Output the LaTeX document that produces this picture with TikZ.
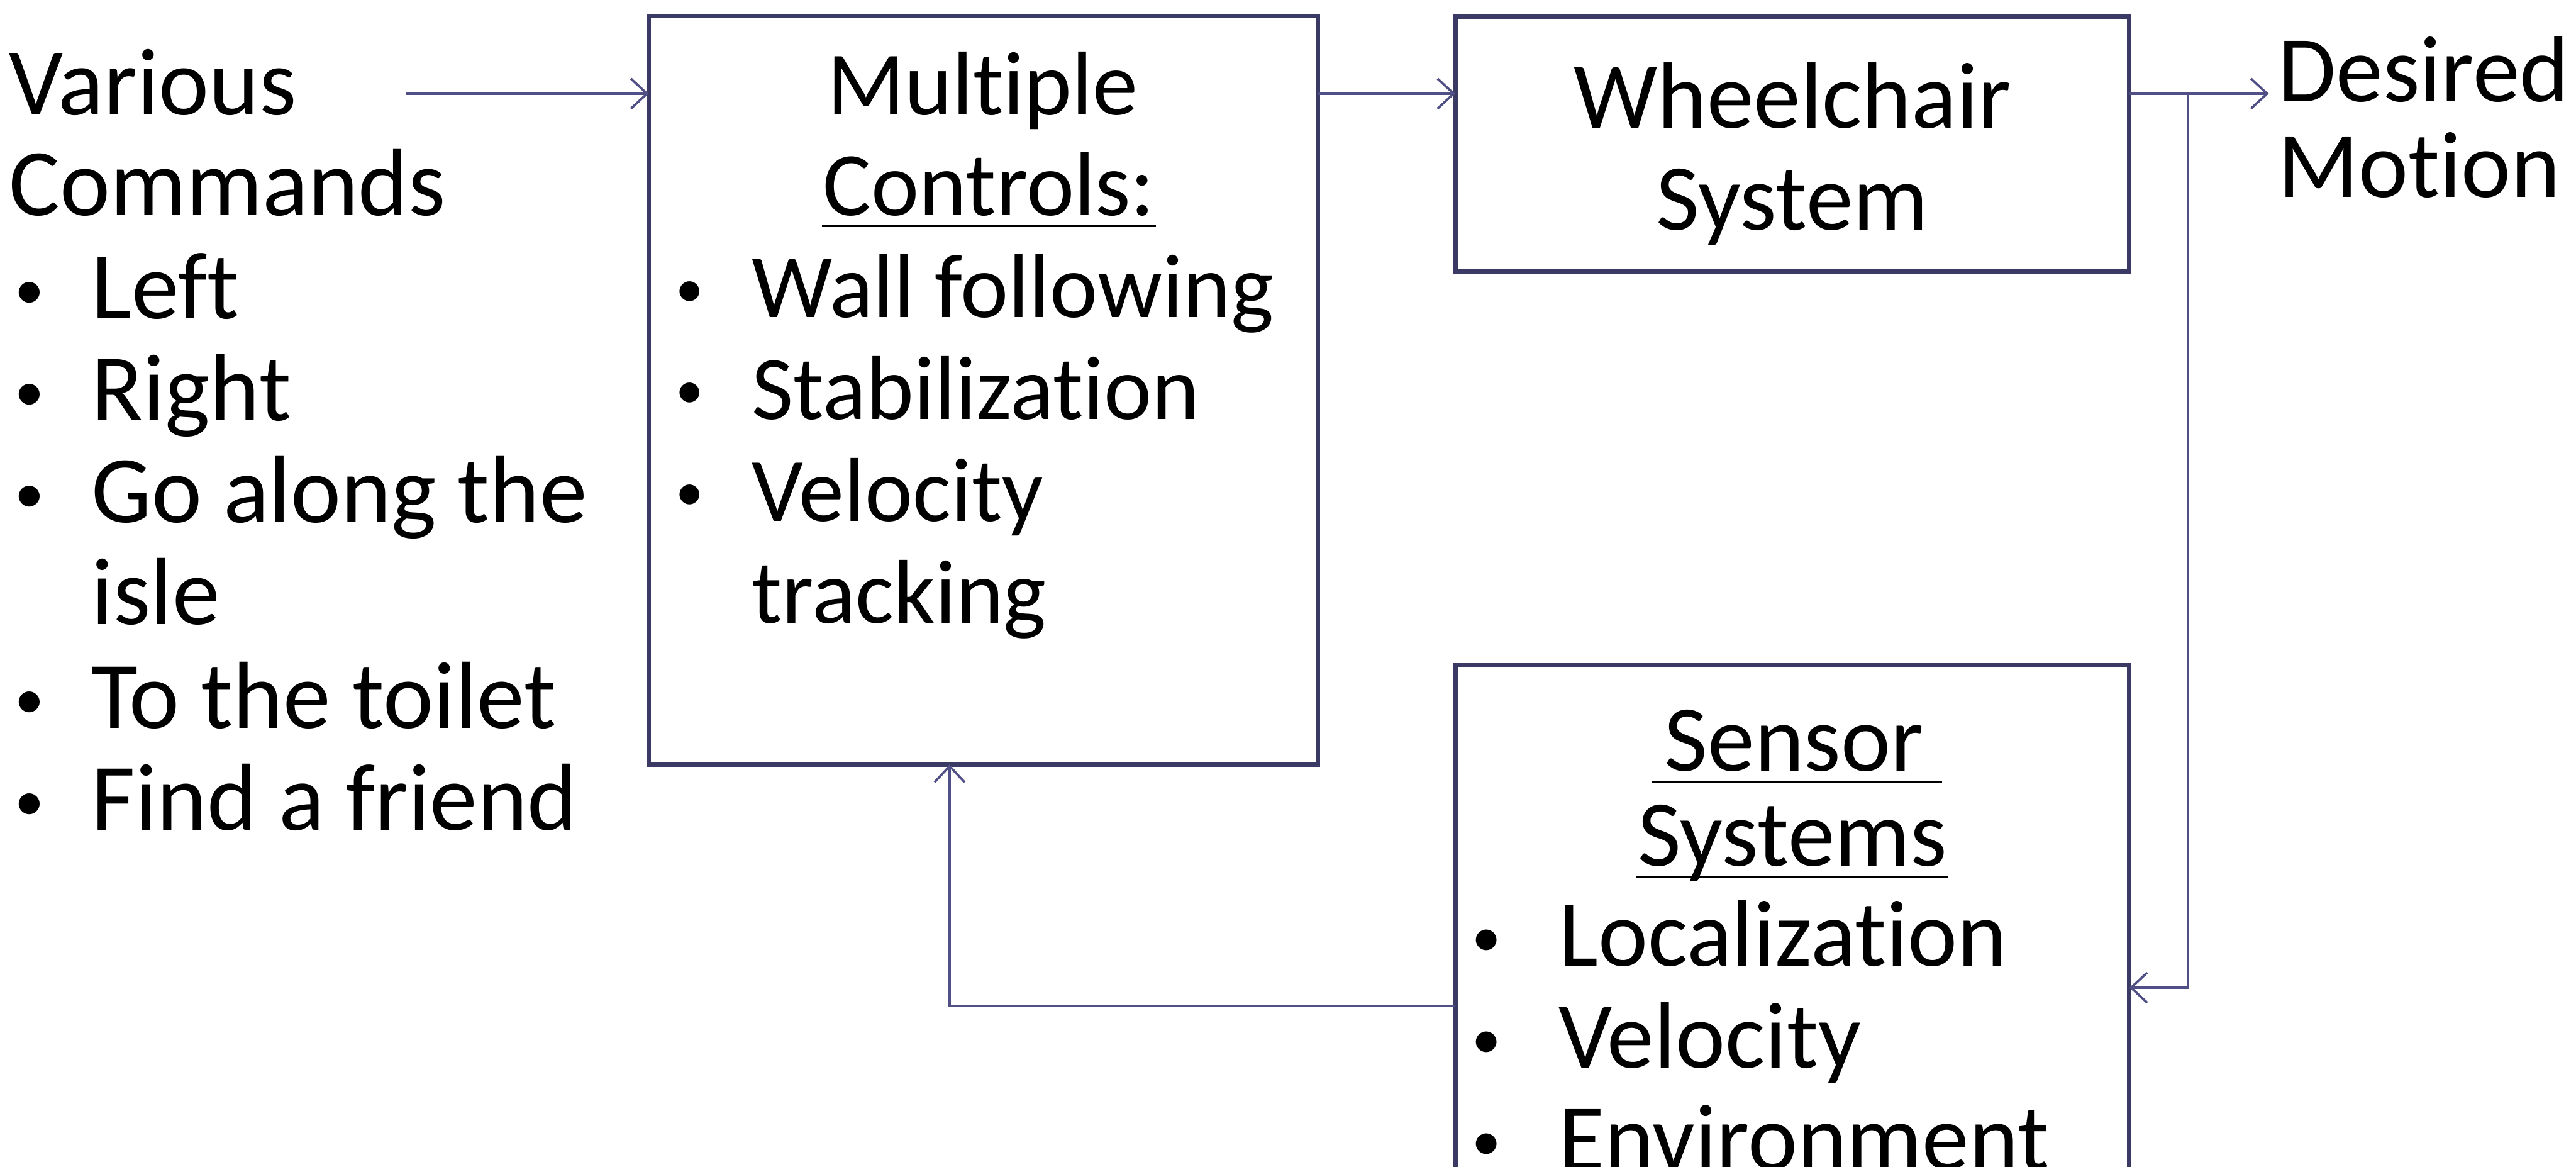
\documentclass[tikz,border=0pt]{standalone}
\usepackage{fontspec}
\setmainfont[RawFeature=-liga]{Carlito}
\usetikzlibrary{arrows.meta}
\definecolor{boxc}{RGB}{58,58,100}
\definecolor{linec}{RGB}{80,80,135}
\newcommand{\smallbul}{\scalebox{0.62}{•}}
\begin{document}
\begin{tikzpicture}[x=0.01cm,y=-0.01cm,
  box/.style={draw=boxc,line width=0.8pt,inner sep=0pt,outer sep=0pt,fill=none},
  arr/.style={draw=linec,line width=0.4pt,-{Straight Barb[length=2.8pt,width=5.2pt]}},
  uline/.style={draw=black,line width=0.4pt},
  fl/.style={font=\fontsize{16.5}{19}\selectfont},
  fa/.style={font=\fontsize{15.7}{19}\selectfont},
  fb/.style={font=\fontsize{16.3}{19}\selectfont},
  tw/.style={inner sep=0pt,anchor=base west},
  tc/.style={inner sep=0pt,anchor=base},
  bu/.style={inner sep=0pt,anchor=center}]
\useasboundingbox (0,0) rectangle (1568,710);
\fill[white] (0,0) rectangle (1568,710);
\clip (0,0) rectangle (1568,710);

% boxes
\node[box,minimum width=4.07cm,minimum height=4.55cm] (box1) at (598.5,237.5) {};
\node[box,minimum width=4.10cm,minimum height=1.55cm] (box2) at (1091,87.5) {};
\node[box,minimum width=4.10cm,minimum height=3.55cm] (box3) at (1091,582.5) {};

% left text
\node[tw,fl] (various) at (5,70) {Various};
\node[tw,fl] (commands) at (5,131) {Commands};
\node[bu,fl] (lb1) at (18,180) {\smallbul};
\node[bu,fl] (lb2) at (18,242) {\smallbul};
\node[bu,fl] (lb3) at (18,304) {\smallbul};
\node[bu,fl] (lb4) at (18,429) {\smallbul};
\node[bu,fl] (lb5) at (18,491) {\smallbul};
\node[tw,fl] (left) at (55,194) {Left};
\node[tw,fl] (right) at (55,256) {Right};
\node[tw,fl] (goalong) at (55,318) {Go along the};
\node[tw,fl] (isle) at (55,380) {isle};
\node[tw,fl] (toilet) at (55,443) {To the toilet};
\node[tw,fl] (friend) at (55,505) {Find a friend};

% box 1 text
\node[tc,fa] (mult) at (598,70) {Multiple};
\node[tc,fa] (ctrl) at (602,131) {Controls:};
\draw[uline] ([yshift=-1.8pt]ctrl.base west) -- ([yshift=-1.8pt]ctrl.base east);
\node[bu,fa] (cb1) at (420,179) {\smallbul};
\node[bu,fa] (cb2) at (420,241) {\smallbul};
\node[bu,fa] (cb3) at (420,303) {\smallbul};
\node[tw,fa] (wall) at (457,193) {Wall following};
\node[tw,fa] (stab) at (457,255) {Stabilization};
\node[tw,fa] (velo) at (457,317) {Velocity};
\node[tw,fa] (track) at (457,379) {tracking};

% box 2 text
\node[tc,fb] (wheel) at (1091,78) {Wheelchair};
\node[tc,fb] (system) at (1091,140) {System};

% output label
\node[tw,fb] (desired) at (1386,62) {Desired};
\node[tw,fb] (motion) at (1386,120) {Motion};

% box 3 text
\node[tc,fb] (sensor) at (1092,469) {Sensor};
\draw[uline] ([yshift=-1.9pt,xshift=-2pt]sensor.base west) -- ([yshift=-1.9pt,xshift=3pt]sensor.base east);
\node[tc,fb] (systems) at (1091,527) {Systems};
\draw[uline] ([yshift=-1.9pt]systems.base west) -- ([yshift=-1.9pt]systems.base east);
\node[bu,fb] (sb1) at (905,574) {\smallbul};
\node[bu,fb] (sb2) at (905,636) {\smallbul};
\node[bu,fb] (sb3) at (905,698) {\smallbul};
\node[tw,fb] (local) at (948,588) {Localization};
\node[tw,fb] (svel) at (948,650) {Velocity};
\node[tw,fb] (env) at (948,712) {Environment};

% connectors
\coordinate (ay) at (0,57);
\coordinate (a1s) at (247,57);
\coordinate (a3e) at (1381,57);
\coordinate (br) at (1332,601);
\coordinate (fbc) at (578,612);
\draw[arr] (a1s) -- (box1.west |- a1s);
\draw[arr] (box1.east |- ay) -- (box2.west |- ay);
\draw[arr] (box2.east |- ay) -- (a3e);
\draw[arr] (ay -| br) |- (box3.east |- br);
\draw[arr] (box3.west |- fbc) -| (box1.south -| fbc);
\end{tikzpicture}
\end{document}
